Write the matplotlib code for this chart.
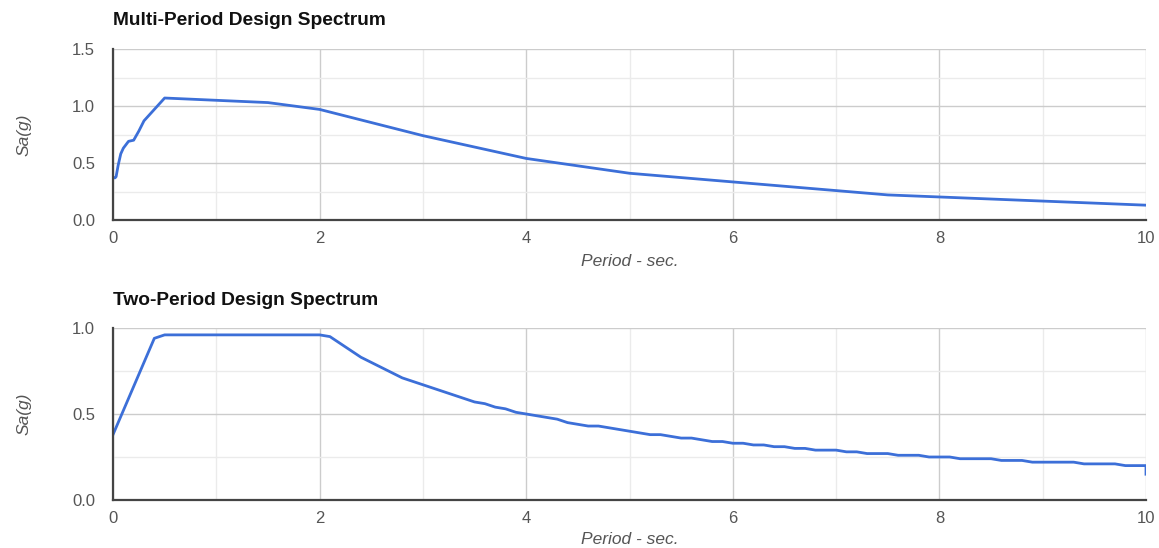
import matplotlib
matplotlib.use("Agg")
import matplotlib.pyplot as plt
from matplotlib.ticker import MultipleLocator

plt.rcParams['font.family'] = ['Liberation Sans', 'DejaVu Sans']

# ---- data ----
multi_period = [0, 0.01, 0.02, 0.03, 0.05, 0.075, 0.1, 0.15, 0.2, 0.25, 0.3,
                0.4, 0.5, 0.75, 1.0, 1.5, 2.0, 3.0, 4.0, 5.0, 7.5, 10.0]
multi_sa = [0.37, 0.37, 0.37, 0.38, 0.48, 0.58, 0.63, 0.69, 0.70, 0.78, 0.87,
            0.97, 1.07, 1.06, 1.05, 1.03, 0.97, 0.74, 0.54, 0.41, 0.22, 0.13]

two_period = [0.0, 0.1, 0.2, 0.3, 0.4, 0.5, 1.0, 1.5, 2.0,
              2.1, 2.2, 2.3, 2.4, 2.5, 2.6, 2.7, 2.8, 2.9, 3.0,
              3.1, 3.2, 3.3, 3.4, 3.5, 3.6, 3.7, 3.8, 3.9, 4.0,
              4.1, 4.2, 4.3, 4.4, 4.5, 4.6, 4.7, 4.8, 4.9, 5.0,
              5.1, 5.2, 5.3, 5.4, 5.5, 5.6, 5.7, 5.8, 5.9, 6.0,
              6.1, 6.2, 6.3, 6.4, 6.5, 6.6, 6.7, 6.8, 6.9, 7.0,
              7.1, 7.2, 7.3, 7.4, 7.5, 7.6, 7.7, 7.8, 7.9, 8.0,
              8.1, 8.2, 8.3, 8.4, 8.5, 8.6, 8.7, 8.8, 8.9, 9.0,
              9.1, 9.2, 9.3, 9.4, 9.5, 9.6, 9.7, 9.8, 9.9, 10.0, 10.0]
two_sa = [0.38, 0.52, 0.66, 0.80, 0.94, 0.96, 0.96, 0.96, 0.96,
          0.95, 0.91, 0.87, 0.83, 0.80, 0.77, 0.74, 0.71, 0.69, 0.67,
          0.65, 0.63, 0.61, 0.59, 0.57, 0.56, 0.54, 0.53, 0.51, 0.50,
          0.49, 0.48, 0.47, 0.45, 0.44, 0.43, 0.43, 0.42, 0.41, 0.40,
          0.39, 0.38, 0.38, 0.37, 0.36, 0.36, 0.35, 0.34, 0.34, 0.33,
          0.33, 0.32, 0.32, 0.31, 0.31, 0.30, 0.30, 0.29, 0.29, 0.29,
          0.28, 0.28, 0.27, 0.27, 0.27, 0.26, 0.26, 0.26, 0.25, 0.25,
          0.25, 0.24, 0.24, 0.24, 0.24, 0.23, 0.23, 0.23, 0.22, 0.22,
          0.22, 0.22, 0.22, 0.21, 0.21, 0.21, 0.21, 0.20, 0.20, 0.20, 0.15]

titles = ["Multi-Period Design Spectrum", "Two-Period Design Spectrum"]
x_label = "Period - sec."
y_label = "Sa(g)"

W, H = 1159, 548
fig = plt.figure(figsize=(W / 100, H / 100), dpi=100)

LINE = '#3c6fd8'
TXT = '#555555'

def make_ax(left, top, right, bottom, ymax, ymaj, ymin):
    ax = fig.add_axes([left / W, 1 - bottom / H, (right - left) / W, (bottom - top) / H])
    ax.set_xlim(0, 10)
    ax.set_ylim(0, ymax)
    ax.xaxis.set_major_locator(MultipleLocator(2))
    ax.xaxis.set_minor_locator(MultipleLocator(1))
    ax.yaxis.set_major_locator(MultipleLocator(ymaj))
    ax.yaxis.set_minor_locator(MultipleLocator(ymin))
    ax.grid(which='major', color='#cccccc', linewidth=1.0)
    ax.grid(which='minor', color='#ebebeb', linewidth=1.0)
    ax.set_axisbelow(True)
    for s in ['top', 'right']:
        ax.spines[s].set_visible(False)
    for s in ['left', 'bottom']:
        ax.spines[s].set_color('#444444')
        ax.spines[s].set_linewidth(1.6)
    ax.tick_params(which='both', length=0, labelsize=12, labelcolor=TXT)
    ax.tick_params(axis='x', pad=8)
    ax.tick_params(axis='y', pad=13)
    ax.yaxis.set_major_formatter(matplotlib.ticker.FormatStrFormatter('%.1f'))
    return ax

ax1 = make_ax(113, 49, 1146, 220, 1.5, 0.5, 0.25)
ax1.plot(multi_period, multi_sa, color=LINE, linewidth=2.0, solid_joinstyle='round')
ax2 = make_ax(113, 328, 1146, 500, 1.0, 0.5, 0.25)
ax2.plot(two_period, two_sa, color=LINE, linewidth=2.0, solid_joinstyle='round')

for ax, t, ty in [(ax1, titles[0], 20.5), (ax2, titles[1], 300.5)]:
    fig.text(113 / W, 1 - ty / H, t, fontsize=13.8, fontweight='bold',
             color='#111111', ha='left', va='center')

for cy, ly in [(135, 262), (414, 540)]:
    fig.text(630 / W, 1 - ly / H, x_label, fontsize=12.5, style='italic',
             color=TXT, ha='center', va='center')
    fig.text(24 / W, 1 - cy / H, y_label, fontsize=12.5, style='italic',
             color=TXT, ha='center', va='center', rotation=90)

fig.savefig('out.png', dpi=100, facecolor='white')
